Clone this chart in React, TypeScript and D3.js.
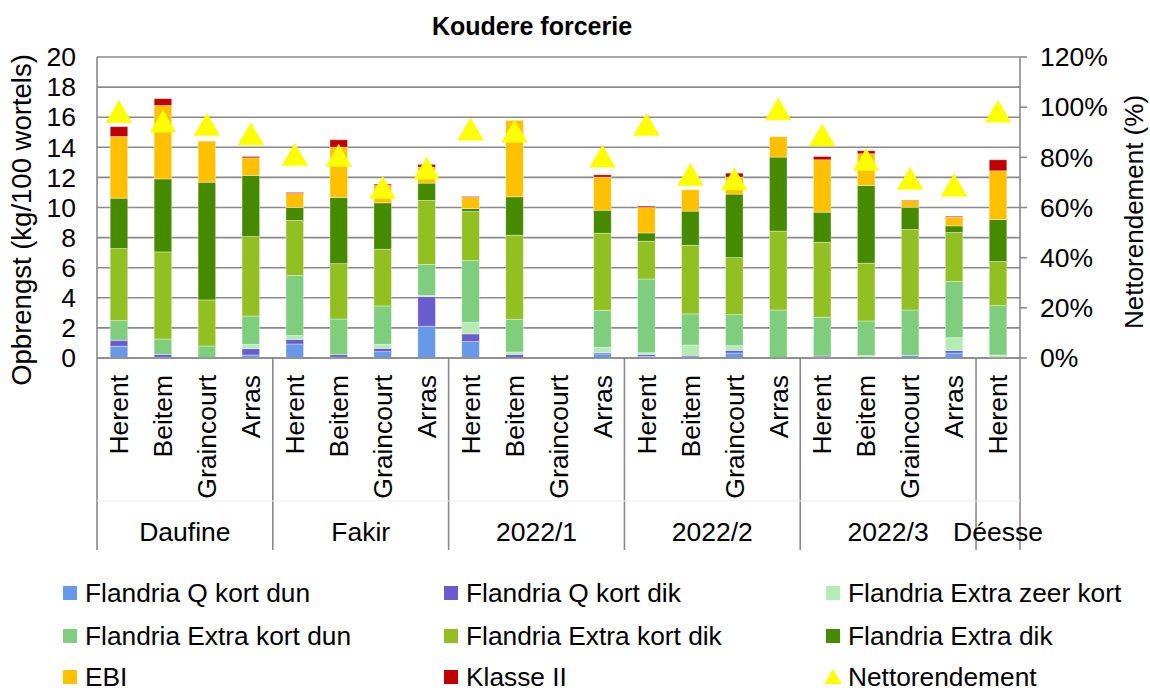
import React from "react";
import * as d3 from "d3";

const groups = ["Daufine", "Fakir", "2022/1", "2022/2", "2022/3", "Déesse"];
const groupSizes = [4, 4, 4, 4, 4, 1];
const locations = [
  "Herent", "Beitem", "Graincourt", "Arras",
  "Herent", "Beitem", "Graincourt", "Arras",
  "Herent", "Beitem", "Graincourt", "Arras",
  "Herent", "Beitem", "Graincourt", "Arras",
  "Herent", "Beitem", "Graincourt", "Arras",
  "Herent",
];

const seriesNames = [
  "Flandria Q kort dun",
  "Flandria Q kort dik",
  "Flandria Extra zeer kort",
  "Flandria Extra kort dun",
  "Flandria Extra kort dik",
  "Flandria Extra dik",
  "EBI",
  "Klasse II",
];
const seriesColors = ["#6699E8", "#6B5BCD", "#B4ECB4", "#7ECE7E", "#92C023", "#468A00", "#FFC000", "#C00000"];

const qKortDun = [0.78, 0.05, 0, 0.2, 0.93, 0.05, 0.42, 2.11, 1.09, 0.02, 0, 0.27, 0.11, 0.08, 0.33, 0, 0.05, 0, 0.18, 0.33, 0];
const qKortDik = [0.4, 0.19, 0, 0.42, 0.31, 0.17, 0.22, 1.97, 0.51, 0.22, 0, 0.08, 0.13, 0.1, 0.18, 0, 0.08, 0.07, 0, 0.16, 0];
const extraZeerKort = [0, 0, 0, 0.29, 0.25, 0, 0.27, 0.07, 0.77, 0.16, 0, 0.36, 0.11, 0.68, 0.31, 0, 0, 0.09, 0, 0.86, 0.2];
const extraKortDun = [1.3, 1.02, 0.8, 1.88, 3.99, 2.37, 2.55, 2.06, 4.1, 2.17, 0, 2.46, 4.9, 2.07, 2.06, 3.19, 2.58, 2.3, 3.01, 3.73, 3.28];
const extraKortDik = [4.79, 5.79, 3.06, 5.28, 3.66, 3.68, 3.77, 4.26, 3.26, 5.59, 0, 5.12, 2.51, 4.56, 3.79, 5.24, 4.98, 3.84, 5.35, 3.26, 2.93];
const extraDik = [3.35, 4.85, 7.82, 4.06, 0.86, 4.4, 3.08, 1.15, 0.2, 2.55, 0, 1.53, 0.55, 2.27, 4.22, 4.92, 2.0, 5.16, 1.48, 0.44, 2.79];
const ebi = [4.1, 4.88, 2.73, 1.17, 0.93, 3.34, 1.15, 1.06, 0.74, 5.08, 0, 2.2, 1.69, 1.42, 1.13, 1.35, 3.48, 2.11, 0.45, 0.58, 3.24];
const klasseII = [0.65, 0.45, 0, 0.09, 0.07, 0.49, 0.09, 0.18, 0.06, 0, 0, 0.15, 0.09, 0, 0.26, 0, 0.22, 0.2, 0.03, 0.06, 0.73];
const nettorendement: (number | null)[] = [97.6, 93.7, 92.4, 88.6, 80.5, 80.1, 67.3, 75.0, 90.5, 89.7, null, 79.8, 92.4, 72.5, 70.7, 98.6, 88.2, 78.5, 70.9, 68.2, 97.7];

const leftTicks = [0, 2, 4, 6, 8, 10, 12, 14, 16, 18, 20];
const rightTicks = [0, 20, 40, 60, 80, 100, 120];

const FONT = "'Liberation Sans', Arial, sans-serif";

export default function App() {
  const W = 1150, H = 692;
  const left = 97, right = 1020, top = 57, bottom = 358;
  const axisBottom = 550;
  const gridColor = "#8a8a8a";

  const idx = d3.range(locations.length);
  const x = d3.scaleBand<number>().domain(idx).range([left, right]).paddingInner(0.6).paddingOuter(0.3);
  const y = d3.scaleLinear().domain([0, 20]).range([bottom, top]);
  const y2 = d3.scaleLinear().domain([0, 120]).range([bottom, top]);

  const allSeries = [qKortDun, qKortDik, extraZeerKort, extraKortDun, extraKortDik, extraDik, ebi, klasseII];
  const rows = idx.map((i) => {
    const r: Record<string, number> = { i };
    seriesNames.forEach((n, k) => (r[n] = allSeries[k][i]));
    return r;
  });
  const stacked = d3.stack<Record<string, number>>().keys(seriesNames)(rows);

  const step = x.step();
  const boundaries: number[] = [];
  let acc = 0;
  groupSizes.forEach((s) => {
    boundaries.push(acc);
    acc += s;
  });
  const boundaryX = (k: number) => left + k * step;

  const tri = d3.symbol().type(d3.symbolTriangle).size(300)();

  const legendCols = [62, 443, 825];
  const legendRows = [593, 636, 677];
  const legendItems = [
    ...seriesNames.map((n, k) => ({ name: n, color: seriesColors[k], tri: false })),
    { name: "Nettorendement", color: "#FFFF00", tri: true },
  ];

  return (
    <svg width={W} height={H} style={{ position: "absolute", left: 0, top: 0, background: "#fff" }} fontFamily={FONT}>
      <text x={532} y={35} textAnchor="middle" fontWeight="bold" fontSize={25}>Koudere forcerie</text>

      {leftTicks.map((t) => (
        <line key={"g" + t} x1={left} x2={right} y1={y(t)} y2={y(t)} stroke={gridColor} strokeWidth={1.6} />
      ))}
      {leftTicks.map((t) => (
        <text key={"l" + t} x={76} y={y(t)} dy="0.35em" textAnchor="end" fontSize={26.5}>{t}</text>
      ))}
      {rightTicks.map((t) => (
        <g key={"r" + t}>
          <line x1={right} x2={right + 7} y1={y2(t)} y2={y2(t)} stroke={gridColor} strokeWidth={1.6} />
          <text x={1040} y={y2(t)} dy="0.35em" textAnchor="start" fontSize={26.5}>{t}%</text>
        </g>
      ))}

      {stacked.map((s, k) => (
        <g key={s.key} fill={seriesColors[k]}>
          {s.map((d, i) =>
            d[1] - d[0] > 0 ? (
              <rect key={i} x={x(i)} width={x.bandwidth()} y={y(d[1])} height={y(d[0]) - y(d[1])}
                stroke="rgba(255,255,255,0.45)" strokeWidth={0.8} />
            ) : null
          )}
        </g>
      ))}

      <line x1={left} x2={left} y1={top} y2={axisBottom} stroke={gridColor} strokeWidth={1.6} />
      <line x1={right} x2={right} y1={top} y2={axisBottom} stroke={gridColor} strokeWidth={1.6} />
      <line x1={left} x2={right} y1={bottom} y2={bottom} stroke={gridColor} strokeWidth={1.6} />
      {boundaries.slice(1).map((b) => (
        <line key={"b" + b} x1={boundaryX(b)} x2={boundaryX(b)} y1={bottom} y2={axisBottom} stroke={gridColor} strokeWidth={1.6} />
      ))}
      <line x1={left} x2={right} y1={501} y2={501} stroke="#ececec" strokeWidth={1} />

      {nettorendement.map((v, i) =>
        v == null ? null : (
          <path key={"t" + i} d={tri} fill="#FFFF00" transform={`translate(${x(i)! + x.bandwidth() / 2},${y2(v) + 2})`} />
        )
      )}

      {locations.map((loc, i) => {
        const cx = x(i)! + x.bandwidth() / 2;
        return (
          <text key={"c" + i} transform={`translate(${cx},375) rotate(-90)`} textAnchor="end" dy="0.35em" fontSize={26.5}>{loc}</text>
        );
      })}
      {groups.map((g, k) => {
        const a = boundaryX(boundaries[k]);
        const b = boundaryX(boundaries[k] + groupSizes[k]);
        return (
          <text key={"gr" + k} x={(a + b) / 2} y={541} textAnchor="middle" fontSize={26.5}>{g}</text>
        );
      })}

      <text transform="translate(31,220) rotate(-90)" textAnchor="middle" fontSize={27.5}>Opbrengst (kg/100 wortels)</text>
      <text transform="translate(1143,212) rotate(-90)" textAnchor="middle" fontSize={26}>Nettorendement (%)</text>

      {legendItems.map((it, k) => {
        const cx = legendCols[k % 3];
        const cy = legendRows[Math.floor(k / 3)];
        return (
          <g key={"lg" + k}>
            {it.tri ? (
              <path d={d3.symbol().type(d3.symbolTriangle).size(130)()!} fill={it.color} transform={`translate(${cx + 8},${cy + 2})`} />
            ) : (
              <rect x={cx + 1} y={cy - 7} width={14} height={14} fill={it.color} />
            )}
            <text x={cx + 23} y={cy} dy="0.35em" fontSize={26.3}>{it.name}</text>
          </g>
        );
      })}
    </svg>
  );
}
